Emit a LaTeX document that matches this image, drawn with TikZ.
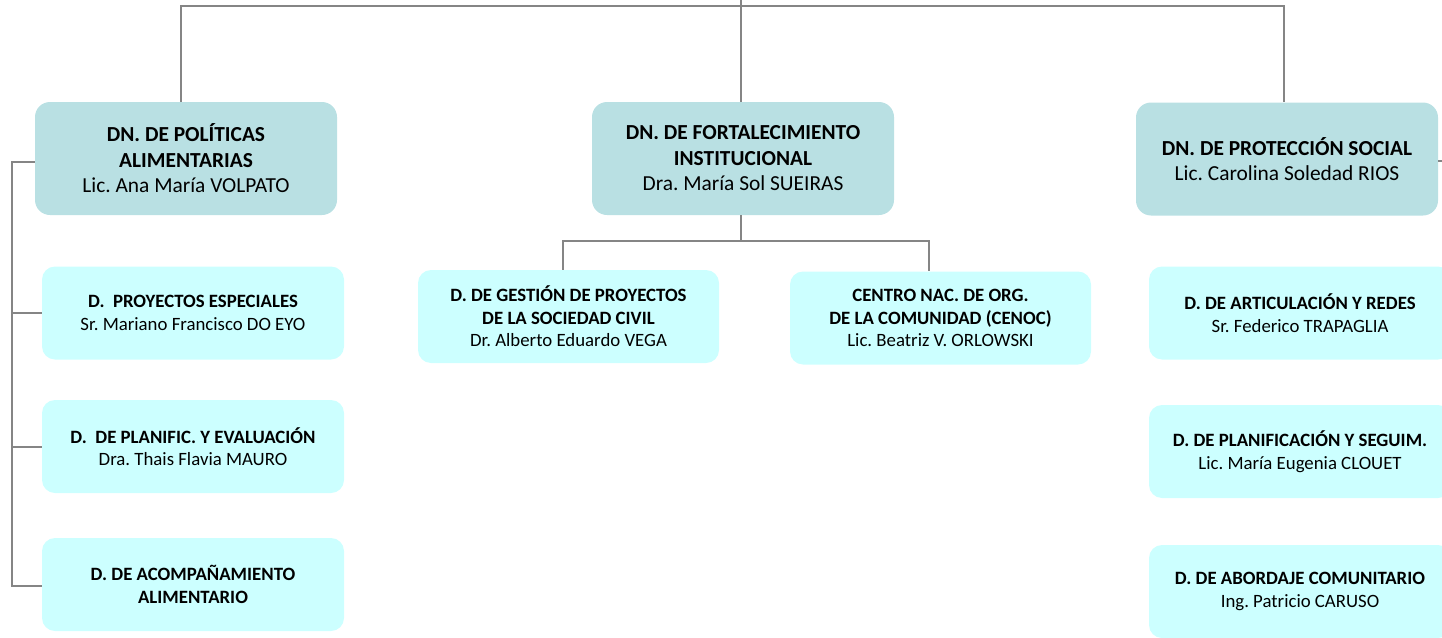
\documentclass[tikz,border=0pt]{standalone}
\usepackage{fontspec}
\setmainfont{Carlito}
\frenchspacing
\definecolor{mainfill}{HTML}{B9E0E3}
\definecolor{subfill}{HTML}{CCFFFF}
\definecolor{linegray}{HTML}{858585}
\begin{document}
\begin{tikzpicture}[x=1pt,y=-1pt,
  mainbox/.style={draw=none,fill=mainfill,rounded corners=15pt,inner sep=0pt,
    minimum width=302pt,minimum height=113pt,align=center,font=\fontsize{21.4}{25.5}\selectfont},
  subbox/.style={draw=none,fill=subfill,rounded corners=13pt,inner sep=0pt,
    minimum width=302pt,minimum height=93pt,align=center,font=\fontsize{18.8}{22.5}\selectfont},
  conn/.style={draw=linegray,line width=2pt}]
\useasboundingbox (0,0) rectangle (1442,637);
\begin{scope}
\clip (0,0) rectangle (1442,637);
% main boxes
\node[mainbox] (b1) at (186,158.5) {\textbf{DN. DE POLÍTICAS}\\\textbf{ALIMENTARIAS}\\Lic. Ana María VOLPATO};
\node[mainbox] (b2) at (743,158.5) {\textbf{DN. DE FORTALECIMIENTO}\\\textbf{INSTITUCIONAL}\\Dra. María Sol SUEIRAS};
\node[mainbox] (b3) at (1287,159) {\textbf{DN. DE PROTECCIÓN SOCIAL}\\Lic. Carolina Soledad RIOS};
% left sub boxes
\node[subbox] (s1) at (193,313) {\textbf{D.\ \ PROYECTOS ESPECIALES}\\Sr. Mariano Francisco DO EYO};
\node[subbox] (s2) at (193,446.5) {\textbf{D.\ \ DE PLANIFIC. Y EVALUACIÓN}\\Dra. Thais Flavia MAURO};
\node[subbox] (s3) at (193,584.5) {\textbf{D. DE ACOMPAÑAMIENTO}\\\textbf{ALIMENTARIO}};
% middle sub boxes
\node[subbox,minimum width=301pt] (m1) at (568.5,316.5) {\textbf{D. DE GESTIÓN DE PROYECTOS}\\\textbf{DE LA SOCIEDAD CIVIL}\\Dr. Alberto Eduardo VEGA};
\node[subbox,minimum width=301pt] (m2) at (940.5,318) {\textbf{CENTRO NAC. DE ORG.}\\\textbf{DE LA COMUNIDAD (CENOC)}\\Lic. Beatriz V. ORLOWSKI};
% right sub boxes
\node[subbox] (r1) at (1300,313) {\textbf{D. DE ARTICULACIÓN Y REDES}\\Sr. Federico TRAPAGLIA};
\node[subbox] (r2) at (1300,451.5) {\textbf{D. DE PLANIFICACIÓN Y SEGUIM.}\\Lic. María Eugenia CLOUET};
\node[subbox] (r3) at (1300,591.5) {\textbf{D. DE ABORDAJE COMUNITARIO}\\Ing. Patricio CARUSO};
% top bus
\coordinate (top) at (741,-5);
\coordinate (bus) at (741,6);
\draw[conn] (top) -- (b2.north -| top);
\draw[conn] ([xshift=-5pt]b1.north) |- (bus) -| ([xshift=-3pt]b3.north);
% right stub
\coordinate (rstub) at (1450,161);
\draw[conn] (b3.east |- rstub) -- (rstub);
% left bracket
\coordinate (lb) at (12,162);
\draw[conn] (b1.west |- lb) -- (lb) |- ([yshift=-1.5pt]s3.west);
\draw[conn] (lb |- s1.west) -- (s1.west);
\draw[conn] (lb |- s2.west) -- (s2.west);
% middle branch
\coordinate (mbus) at (741,241);
\draw[conn] (b2.south -| mbus) -- (mbus);
\draw[conn] ([xshift=-5.5pt]m1.north) |- (mbus) -| ([xshift=-11.5pt]m2.north);
\end{scope}
\end{tikzpicture}
\end{document}
